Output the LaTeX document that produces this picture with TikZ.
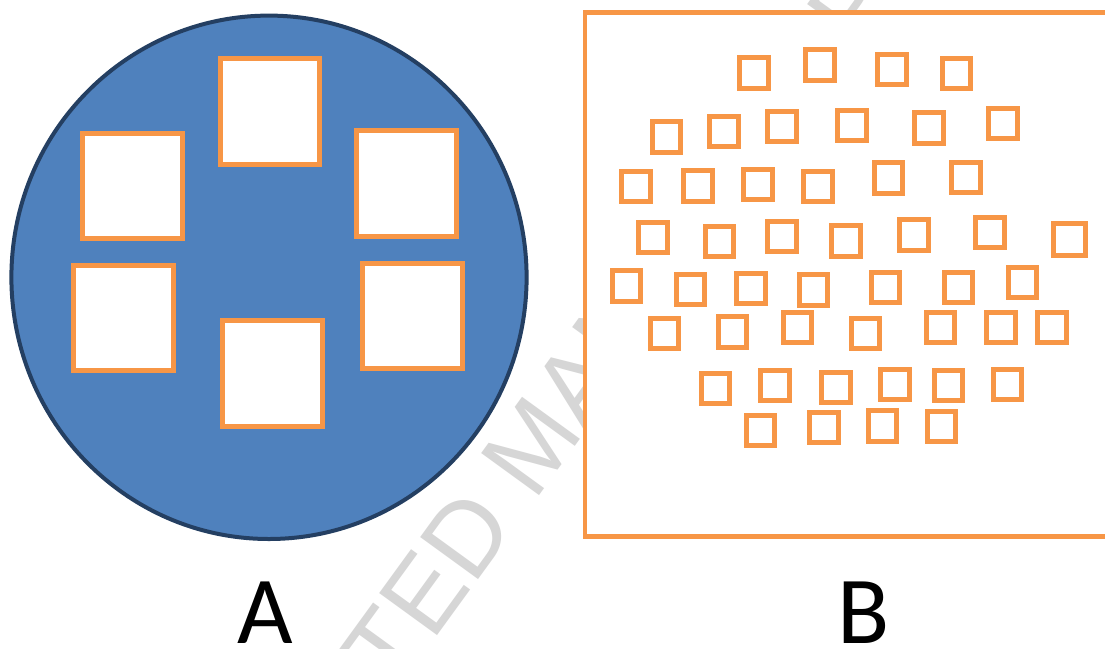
\documentclass[tikz,border=0pt]{standalone}
\usepackage{fontspec}
\newfontfamily\labfont{Carlito}
\newfontfamily\wmfont{Liberation Sans}
\definecolor{orng}{HTML}{F79646}
\definecolor{bluefill}{HTML}{4F81BD}
\definecolor{navy}{HTML}{243F62}
\definecolor{wmgray}{HTML}{D6D6D6}
\begin{document}
\begin{tikzpicture}[x=1pt,y=-1pt,
  bigsq/.style={draw=orng,line width=5pt,fill=white},
  smallsq/.style={draw=orng,line width=5pt,fill=white},
  circ/.style={draw=navy,line width=4pt,fill=bluefill},
  panelbox/.style={draw=orng,line width=4.5pt,fill=white},
  lab/.style={font=\labfont\fontsize{96}{96}\selectfont,text=black,inner sep=0pt,anchor=base},
  wm/.style={font=\wmfont\fontsize{104}{104}\selectfont,text=wmgray,inner sep=0pt,anchor=base west,rotate=54}]
\clip (0,0) rectangle (1105,648);
\fill[white] (0,0) rectangle (1105,648);
% watermark
\node[wm] (wmark) at (184.4,984.2) {ACCEPTED MANUSCRIPT};
% panel A
\draw[circ] (269,277.3) ellipse [x radius=257.6, y radius=261.7];
\draw[bigsq] (220.1,58.9) rectangle (319.5,164.3);
\draw[bigsq] (82.4,133.2) rectangle (182.1,238.9);
\draw[bigsq] (356.8,130.4) rectangle (456.9,236.1);
\draw[bigsq] (73.8,265) rectangle (173.8,370.7);
\draw[bigsq] (222.9,320.4) rectangle (322.5,426.1);
\draw[bigsq] (362.4,263.2) rectangle (462.4,368.9);
% panel B
\draw[panelbox] (585,12.5) rectangle (1125,536.5);
\foreach \x/\y in {737.3/55.3, 803.3/47.3, 875.3/51.7, 939.6/56,
  649.6/119.3, 707.2/114, 765.1/109, 835.1/108, 912.1/110.3, 986.1/105.7,
  619.2/169, 681.1/168.3, 741.4/167, 801/168.7, 871.6/160.3, 949.3/159.7,
  636.2/220, 702.9/223.7, 765.1/219, 829.1/223.3, 897.4/217.3, 973/214.7,
  609.5/268.3, 673.7/271.7, 734/271, 796.9/272.3, 868.9/270, 941.6/269.7, 1005.8/265,
  647.6/316, 715.9/314.3, 780.9/310, 848.5/316, 923.5/310, 984.1/310, 1035/310,
  698.8/371, 758.1/368, 819.4/370, 878/367, 931.5/367.7, 990.8/367,
  743.7/412.7, 807/410, 865.9/408.3, 924.8/409}
  \draw[smallsq] (\x+2.5,\y+2.5) rectangle ++(28.5,30.3);
\draw[smallsq] (1053.9,223.8) rectangle ++(31.8,31.7);
% labels
\node[lab] (labA) at (265,643) {A};
\node[lab] (labB) at (864,643) {B};
\end{tikzpicture}
\end{document}
